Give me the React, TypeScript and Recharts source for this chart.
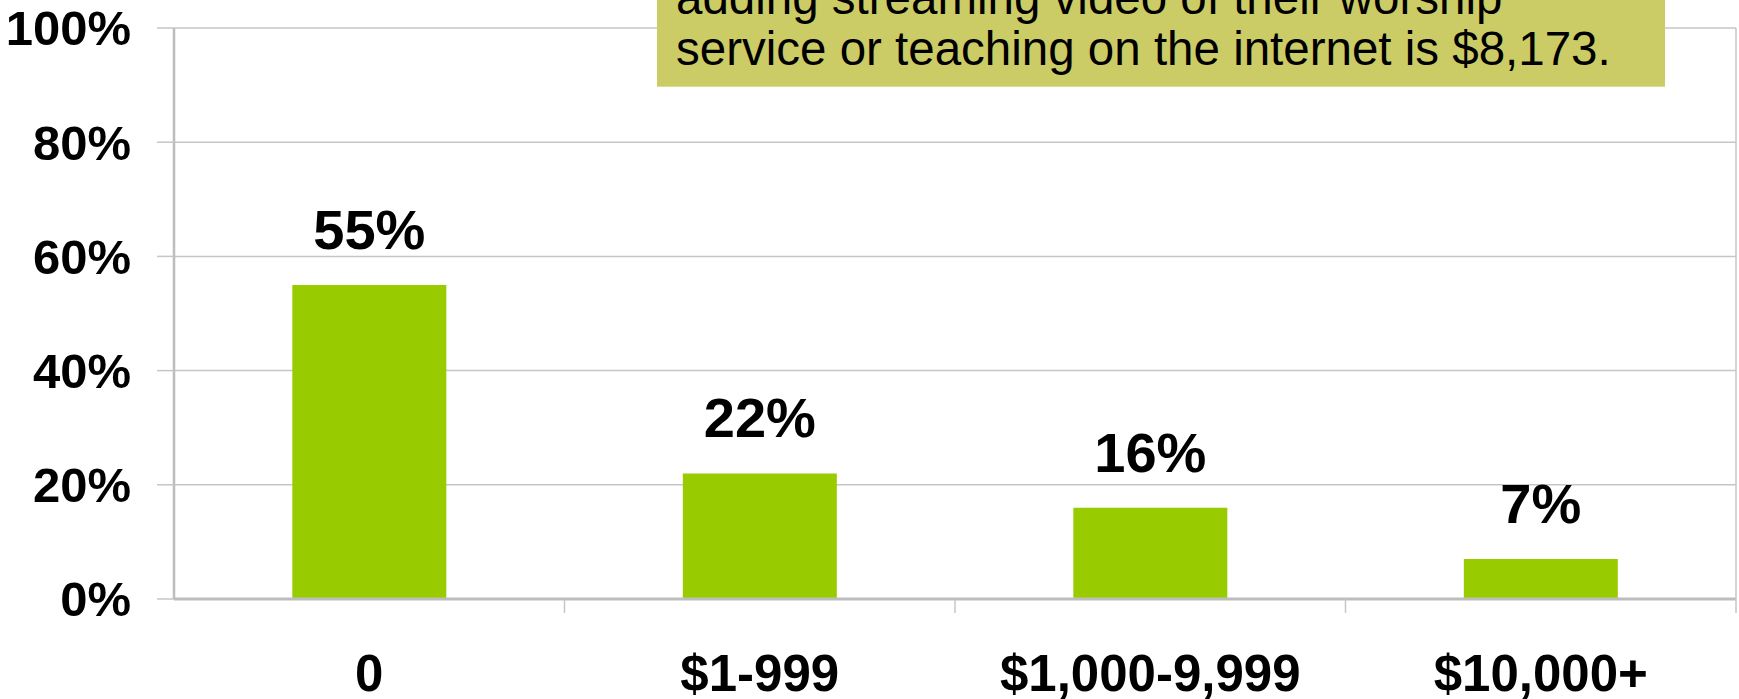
import React from 'react';
import { BarChart, Bar, XAxis, YAxis, CartesianGrid, LabelList } from 'recharts';

const categories = ['0', '$1-999', '$1,000-9,999', '$10,000+'];
const shares = [55, 22, 16, 7];
const yTicks = [0, 20, 40, 60, 80, 100];
const noteLines = [
  'adding streaming video of their worship',
  'service or teaching on the internet is $8,173.',
];

const data = categories.map((c, i) => ({ name: c, value: shares[i] }));

const FONT = '"Liberation Sans", Arial, Helvetica, sans-serif';
const GRID = '#c6c6c6';

const XTick = (props: any) => {
  const { x, y, payload, index, visibleTicksCount, width } = props;
  const bw = (width || 1562) / (visibleTicksCount || 4);
  const left = x - bw / 2;
  const right = x + bw / 2;
  return (
    <g>
      {index > 0 && <line x1={left} x2={left} y1={y} y2={y + 14} stroke={GRID} strokeWidth={1.5} />}
      {index === (visibleTicksCount || 4) - 1 && (
        <line x1={right} x2={right} y1={y} y2={y + 14} stroke={GRID} strokeWidth={1.5} />
      )}
      <text x={x} y={y + 92} textAnchor="middle" fontFamily={FONT} fontWeight="bold" fontSize={51} fill="#000">
        {payload.value}
      </text>
    </g>
  );
};

export default function App() {
  return (
    <div style={{ position: 'absolute', left: 0, top: 0, width: 1739, height: 699, background: '#fff', overflow: 'hidden' }}>
      <BarChart
        width={1739}
        height={699}
        data={data}
        margin={{ top: 28, right: 0, left: 0, bottom: 0 }}
        barCategoryGap="30.3%"
      >
        <CartesianGrid vertical={false} stroke={GRID} strokeWidth={1.5} />
        <XAxis
          dataKey="name"
          height={100}
          tickLine={false}
          tickSize={0}
          tickMargin={0}
          axisLine={{ stroke: '#bdbdbd', strokeWidth: 3 }}
          tick={<XTick />}
          interval={0}
        />
        <YAxis
          width={174}
          domain={[0, 100]}
          ticks={yTicks}
          tickFormatter={(v: number) => `${v}%`}
          tickSize={17}
          tickMargin={26}
          tickLine={{ stroke: GRID, strokeWidth: 1.5 }}
          axisLine={{ stroke: '#bdbdbd', strokeWidth: 2.5 }}
          tick={{ fontFamily: FONT, fontWeight: 'bold', fontSize: 49, fill: '#000' }}
          interval={0}
        />
        <YAxis
          yAxisId="r"
          orientation="right"
          width={3}
          domain={[0, 100]}
          tick={false}
          tickLine={false}
          axisLine={{ stroke: GRID, strokeWidth: 1.5 }}
        />
        <Bar dataKey="value" fill="#99cc00" isAnimationActive={false}>
          <LabelList
            dataKey="value"
            position="top"
            offset={36}
            formatter={(v: number) => `${v}%`}
            style={{ fontFamily: FONT, fontWeight: 'bold', fontSize: 56, fill: '#000' }}
          />
        </Bar>
      </BarChart>
      <svg width={1739} height={699} style={{ position: 'absolute', left: 0, top: 0, pointerEvents: 'none' }}>
        <rect x={657} y={-10} width={1008} height={96.7} fill="#cccc66" />
        {noteLines.map((t, i) => (
          <text key={i} x={676} y={14 + i * 51} fontFamily={FONT} fontSize={47.5} fill="#000">
            {t}
          </text>
        ))}
      </svg>
    </div>
  );
}
